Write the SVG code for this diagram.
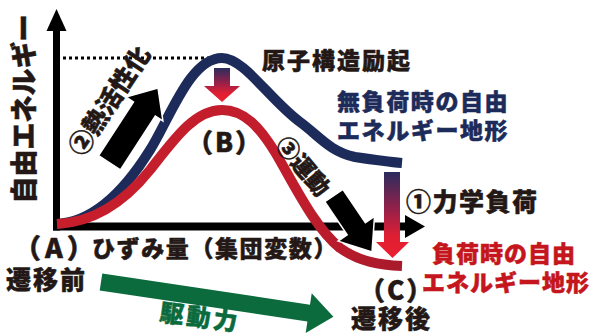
<svg xmlns="http://www.w3.org/2000/svg" width="595" height="336" viewBox="0 0 595 336">
<style>
text{font-family:'Noto Sans CJK JP','Noto Sans',sans-serif;font-weight:900;stroke-width:0.5;stroke-linejoin:round}
.dk{fill:#231815;stroke:#231815}
.nv{fill:#1c2b5a;stroke:#1c2b5a}
.rd{fill:#c4161c;stroke:#c4161c}
.gr{fill:#0b6b3d;stroke:#0b6b3d}
.curve{fill:none;stroke-width:10;stroke-linecap:butt}
.blk{fill:#000;stroke:#fff;stroke-width:1.5;stroke-linejoin:miter}
</style>
<defs>
<linearGradient id="gRed" gradientUnits="userSpaceOnUse" x1="57" y1="0" x2="402" y2="0">
<stop offset="0" stop-color="#c81e2c"/><stop offset="0.7" stop-color="#c01d2c"/><stop offset="1" stop-color="#a81a2b"/>
</linearGradient>
<linearGradient id="gDown" x1="0" y1="0" x2="0" y2="1">
<stop offset="0" stop-color="#2a2c5e"/><stop offset="0.45" stop-color="#9a2048"/><stop offset="0.75" stop-color="#e01f33"/><stop offset="1" stop-color="#ea2030"/>
</linearGradient>
</defs>
<g id="axes">
<line x1="63" y1="58" x2="222" y2="58" stroke="#000" stroke-width="3" stroke-dasharray="3 3"/>
<line x1="56.5" y1="28" x2="56.5" y2="230.5" stroke="#000" stroke-width="7"/>
<polygon points="56.5,9 66.5,31 46.5,31" fill="#000"/>
<line x1="53" y1="226.5" x2="406" y2="226.5" stroke="#000" stroke-width="8"/>
<polygon points="405,215 425,226.5 405,238" fill="#000"/>
</g>
<g id="curve-unloaded">
<path class="curve" stroke="#1c2b5a" d="M57,224 C95,222 125,190 150,150 C170,118 190,58 222,58 C244,58 270,100 300,122 C318,135 330,152 355,157 C375,160 390,162 402,163"/>
</g>
<g id="curve-loaded">
<path class="curve" stroke="url(#gRed)" d="M57,224 C100,222 130,195 150,170 C175,138 195,110 222,110 C245,110 260,128 275,152 C295,186 315,228 340,248 C360,262 380,265 402,266"/>
</g>
<g id="connectors">
<polygon id="arrow-thermal" class="blk" points="158,88 162.9,121 155.3,116.1 120.4,169.8 98.6,155.6 133.5,101.9 125.9,97"/>
<polygon id="arrow-motion" class="blk" points="372,252 338.1,241.1 347.2,234.9 324.8,201.7 343,189.5 365.4,222.7 374.5,216.5"/>
<polygon id="arrow-excite" fill="url(#gDown)" points="214,68 230,68 230,86 240,86 222,102 204,86 214,86"/>
<polygon id="arrow-load" fill="url(#gDown)" points="384,172 400,172 400,242 409,242 392.5,258 376,242 384,242"/>
<polygon id="arrow-drive" fill="#0b6b3d" points="102.3,273.6 310,304.7 311.7,293.3 333.4,316.8 305.7,332.9 307.4,321.5 99.7,290.4"/>
</g>
<g id="label-axis-y"><text class="dk" transform="translate(23.5,109) rotate(-90)" x="0" y="10" text-anchor="middle" font-size="27">自由エネルギー</text></g>
<g id="label-excite"><text class="dk" x="262" y="68.5" font-size="23" letter-spacing="2">原子構造励起</text></g>
<g id="label-unloaded"><text class="nv" x="337" y="110" font-size="23" letter-spacing="1.6">無負荷時の自由</text><text class="nv" x="337" y="138.5" font-size="23" letter-spacing="1.6">エネルギー地形</text></g>
<g id="label-load"><text class="dk" x="406" y="211" font-size="25" letter-spacing="1.5">①力学負荷</text></g>
<g id="label-loaded"><text class="rd" x="432" y="261.5" font-size="23" letter-spacing="1">負荷時の自由</text><text class="rd" x="422" y="290.5" font-size="23" letter-spacing="1">エネルギー地形</text></g>
<g id="node-A"><text class="dk" x="14" y="258" font-size="27" letter-spacing="4">（A）</text><text class="dk" x="6" y="289" font-size="25" letter-spacing="2">遷移前</text></g>
<g id="label-axis-x"><text class="dk" x="92" y="256.5" font-size="23" letter-spacing="1.6">ひずみ量（集団変数）</text></g>
<g id="node-B"><text class="dk" x="187" y="152" font-size="26" letter-spacing="2">（B）</text></g>
<g id="node-C"><text class="dk" x="359" y="300" font-size="26" letter-spacing="2">（C）</text><text class="dk" x="351" y="328" font-size="25" letter-spacing="2">遷移後</text></g>
<g id="label-thermal"><text class="dk" transform="translate(109,100.5) rotate(-56.5)" x="0" y="9.5" text-anchor="middle" font-size="25">②熱活性化</text></g>
<g id="label-motion"><text class="dk" transform="translate(303.5,166) rotate(50)" x="0" y="9" text-anchor="middle" font-size="23">③運動</text></g>
<g id="label-drive"><text class="gr" transform="translate(200,318) rotate(7.5)" x="0" y="8" text-anchor="middle" font-size="24" letter-spacing="3">駆動力</text></g>
</svg>
